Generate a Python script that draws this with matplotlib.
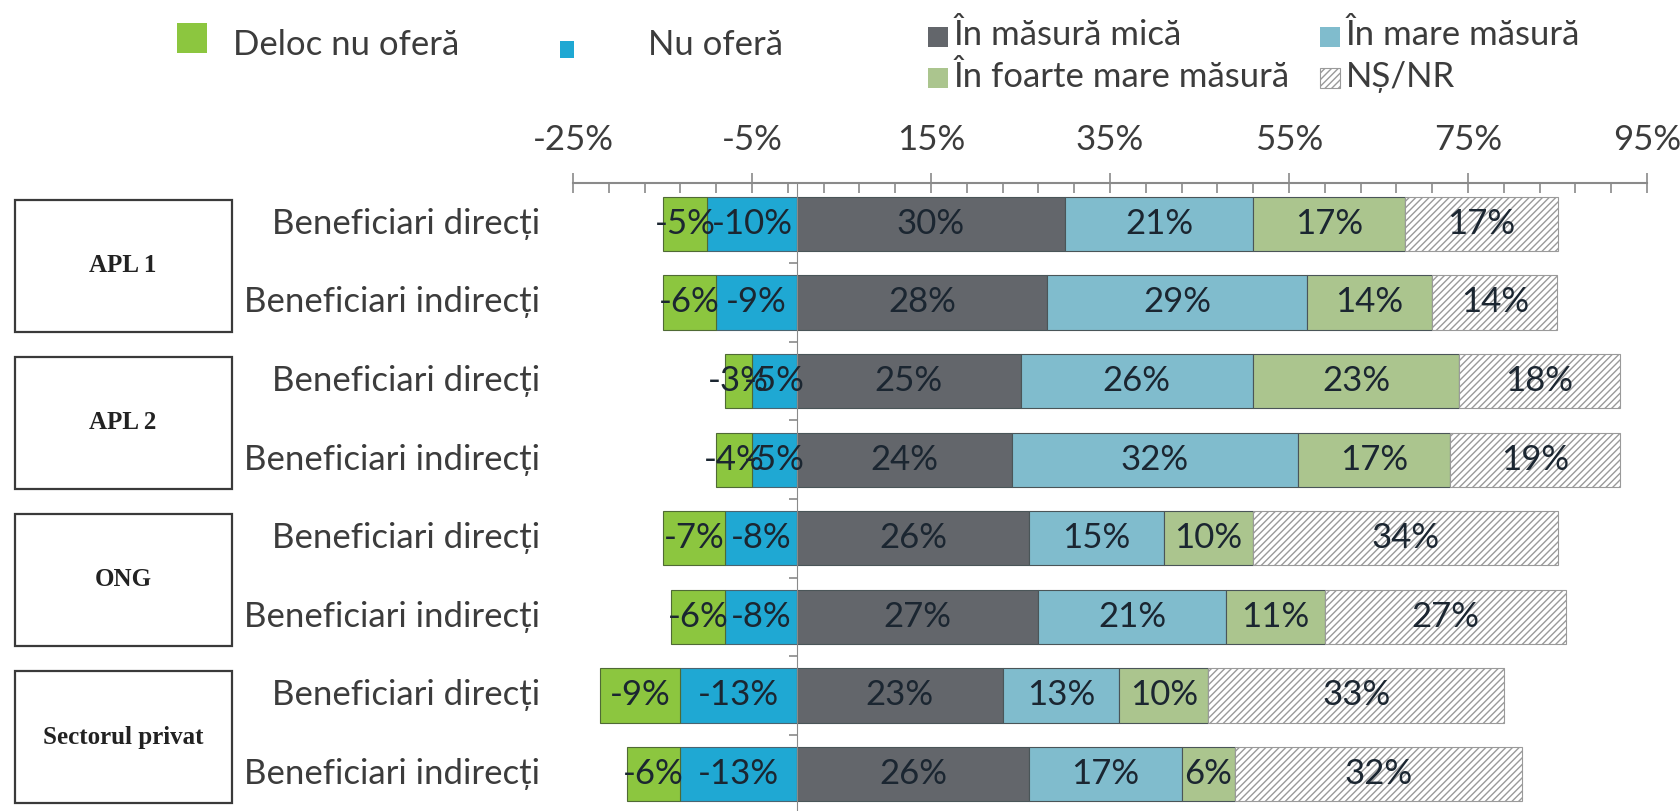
import numpy as np
import matplotlib
matplotlib.use('Agg')
import matplotlib.pyplot as plt
import matplotlib.transforms as mtransforms
from matplotlib.patches import Rectangle
from matplotlib.ticker import FixedLocator

plt.rcParams['font.family'] = ['Lato', 'DejaVu Sans']
plt.rcParams['hatch.linewidth'] = 1.0

# data
groups = ['APL 1', 'APL 2', 'ONG', 'Sectorul privat']
rows = ['Beneficiari direcți', 'Beneficiari indirecți'] * 4

deloc = [-5, -6, -3, -4, -7, -6, -9, -6]
nu_ofera = [-10, -9, -5, -5, -8, -8, -13, -13]
mica = [30, 28, 25, 24, 26, 27, 23, 26]
mare = [21, 29, 26, 32, 15, 21, 13, 17]
foarte_mare = [17, 14, 23, 17, 10, 11, 10, 6]
ns_nr = [17, 14, 18, 19, 34, 27, 33, 32]

xticks = [-25, -5, 15, 35, 55, 75, 95]

c_deloc = '#8cc63f'
c_nu = '#1fa8d3'
c_mica = '#63666b'
c_mare = '#80bccd'
c_foarte = '#abc58e'
txt = '#1b2631'
grey = '#3c3c3c'

W, H = 1680, 811
fig = plt.figure(figsize=(W / 100, H / 100), dpi=100)
ax = fig.add_axes([573 / W, 0, 1074 / W, (H - 183) / H])

y = np.arange(len(rows))
bh = 0.69
fs = 25

# negative side
ax.barh(y, nu_ofera, height=bh, color=c_nu, edgecolor='#4a6470', lw=0.8)
ax.barh(y, deloc, left=nu_ofera, height=bh, color=c_deloc, edgecolor='#4f6a35', lw=0.8)
for i in range(len(rows)):
    ax.text(nu_ofera[i] / 2, y[i], f'{nu_ofera[i]}%', ha='center', va='center', fontsize=fs, color=txt)
    ax.text(nu_ofera[i] + deloc[i] / 2, y[i], f'{deloc[i]}%', ha='center', va='center', fontsize=fs, color=txt)

# positive side
left = np.zeros(len(rows))
for vals, col in [(mica, c_mica), (mare, c_mare), (foarte_mare, c_foarte)]:
    ax.barh(y, vals, left=left, height=bh, color=col, edgecolor='#4a5558', lw=0.8)
    for i, v in enumerate(vals):
        ax.text(left[i] + v / 2, y[i], f'{v}%', ha='center', va='center', fontsize=fs, color=txt)
    left = left + np.array(vals)
ax.barh(y, ns_nr, left=left, height=bh, color='white', edgecolor='#9a9a9a', lw=0.8, hatch='/////')
for i, v in enumerate(ns_nr):
    ax.text(left[i] + v / 2, y[i], f'{v}%', ha='center', va='center', fontsize=fs, color=txt)

ax.set_xlim(-25, 95)
ax.set_ylim(7.47, -0.52)

# axes styling
ax.xaxis.tick_top()
ax.set_xticks(xticks)
ax.set_xticklabels([f'{t}%' for t in xticks], fontsize=fs, color=grey)
ax.xaxis.set_minor_locator(FixedLocator(np.arange(-25, 96, 4)))
ax.tick_params(axis='x', which='major', direction='inout', length=15, width=1.2, color='#8a8a8a', pad=12)
ax.tick_params(axis='x', which='minor', direction='in', length=7, width=1.2, color='#8a8a8a')
ax.set_yticks(np.arange(0.5, 7, 1))
ax.set_yticklabels([])
ax.tick_params(axis='y', direction='out', length=6, width=1.2, color='#8a8a8a')
ax.spines['left'].set_position(('data', 0))
ax.spines['left'].set_color('#8a8a8a')
ax.spines['top'].set_color('#8a8a8a')
ax.spines['top'].set_linewidth(1.5)
ax.spines['right'].set_visible(False)
ax.spines['bottom'].set_visible(False)

# row labels and group boxes
tr = mtransforms.blended_transform_factory(fig.transFigure, ax.transData)
for i, r in enumerate(rows):
    ax.text(540 / W, y[i], r, transform=tr, ha='right', va='center', fontsize=fs, color=grey)
for g, name in enumerate(groups):
    yc = 2 * g + 0.53
    ax.add_patch(Rectangle((15 / W, yc - 0.84), 217 / W, 1.68, transform=tr, fill=False,
                           edgecolor='#3a3a3a', lw=1.6, clip_on=False))
    ax.text(123 / W, yc, name, transform=tr, ha='center', va='center', fontsize=18,
            fontweight='bold', family='Liberation Serif', color='#222222')


# legend entries placed like the original (pixel positions from top-left)
def leg(x, ym, w, h, tx, ty, label, col, hatch=None):
    fig.add_artist(Rectangle((x / W, 1 - (ym + h / 2) / H), w / W, h / H, transform=fig.transFigure,
                             facecolor=col, edgecolor='#9a9a9a' if hatch else 'none', hatch=hatch, lw=0.8))
    fig.text(tx / W, 1 - ty / H, label, ha='left', va='center', fontsize=fs, color=grey)


leg(177, 38, 30, 30, 233, 45, 'Deloc nu oferă', c_deloc)
leg(560, 49, 14, 17, 648, 45, 'Nu oferă', c_nu)
leg(928, 37, 20, 19, 954, 35, 'În măsură mică', c_mica)
leg(1320, 37, 20, 19, 1346, 35, 'În mare măsură', c_mare)
leg(928, 78, 20, 19, 954, 77, 'În foarte mare măsură', c_foarte)
leg(1320, 78, 20, 19, 1346, 77, 'NȘ/NR', 'white', hatch='/////')

fig.savefig('out.png', dpi=100)
